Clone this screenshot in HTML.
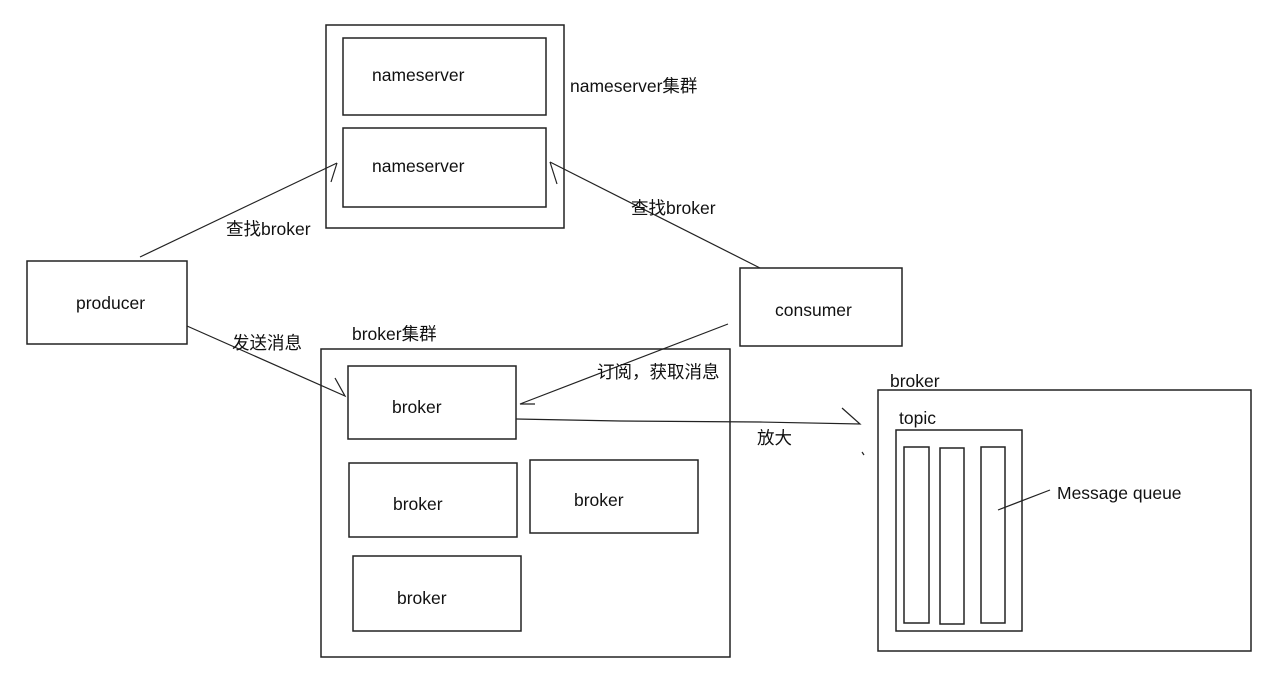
<!DOCTYPE html>
<html><head><meta charset="utf-8"><style>
html,body{margin:0;padding:0;background:#fff;width:1267px;height:675px;overflow:hidden}
svg text{font-family:"Liberation Sans","Noto Sans CJK SC",sans-serif;font-size:17.5px;fill:#111}
</style></head><body>
<svg width="1267" height="675" xmlns="http://www.w3.org/2000/svg">
<g fill="none" stroke="#222" stroke-width="1.5">
<rect x="326" y="25" width="238" height="203"/>
<rect x="343" y="38" width="203" height="77"/>
<rect x="343" y="128" width="203" height="79"/>
<rect x="27" y="261" width="160" height="83"/>
<rect x="740" y="268" width="162" height="78"/>
<rect x="321" y="349" width="409" height="308"/>
<rect x="348" y="366" width="168" height="73"/>
<rect x="349" y="463" width="168" height="74"/>
<rect x="530" y="460" width="168" height="73"/>
<rect x="353" y="556" width="168" height="75"/>
<rect x="878" y="390" width="373" height="261"/>
<rect x="896" y="430" width="126" height="201"/>
<rect x="904" y="447" width="25" height="176"/>
<rect x="940" y="448" width="24" height="176"/>
<rect x="981" y="447" width="24" height="176"/>
</g>
<g fill="none" stroke="#222" stroke-width="1.2">
<path d="M140 257 L337 163"/>
<path d="M337 163 L331 182"/>
<path d="M760 268 L550 162"/>
<path d="M550 162 L557 184"/>
<path d="M187 326 L345 396 L335 378"/>
<path d="M728 324 L520 404 L535 404"/>
<path d="M516 419 L620 421 L760 422 L860 424 L842 408"/>
<path d="M862 452 L864 455"/>
<path d="M998 510 L1050 490"/>
</g>
<text x="372" y="81">nameserver</text>
<text x="372" y="172">nameserver</text>
<text x="570" y="92">nameserver集群</text>
<text x="226" y="235">查找broker</text>
<text x="631" y="214">查找broker</text>
<text x="76" y="309">producer</text>
<text x="775" y="316">consumer</text>
<text x="232" y="349">发送消息</text>
<text x="352" y="340">broker集群</text>
<text x="597" y="378">订阅，获取消息</text>
<text x="392" y="413">broker</text>
<text x="393" y="510">broker</text>
<text x="574" y="506">broker</text>
<text x="397" y="604">broker</text>
<text x="757" y="444">放大</text>
<text x="890" y="387">broker</text>
<text x="899" y="424">topic</text>
<text x="1057" y="499">Message queue</text>
</svg>
</body></html>
